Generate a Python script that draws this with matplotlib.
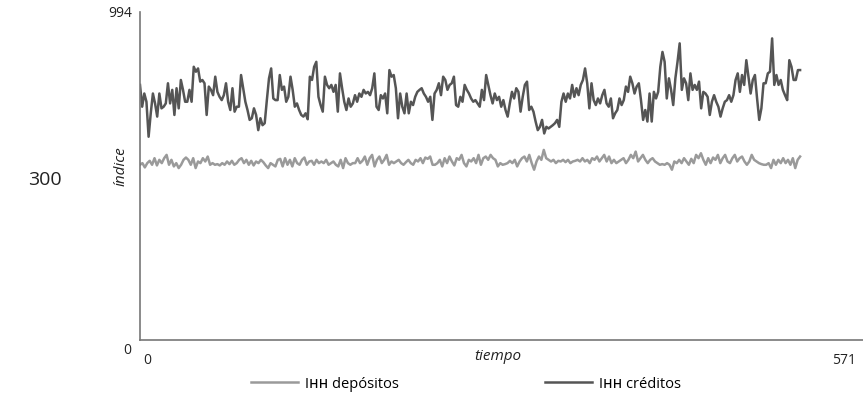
import matplotlib.pyplot as plt
import matplotlib.transforms as mtransforms
import numpy as np

# Series
ihh_creditos = [
    773, 707, 747, 722, 616, 687, 747, 717, 677, 747, 702, 707, 717, 778, 717, 758, 682, 763, 702, 788,
    758, 722, 722, 758, 722, 828, 813, 823, 783, 788, 778, 682, 768, 758, 742, 798, 752, 737, 727, 742,
    778, 722, 697, 763, 692, 707, 707, 803, 763, 722, 697, 667, 672, 702, 682, 636, 672, 651, 657, 727,
    793, 823, 732, 727, 727, 803, 758, 768, 722, 737, 798, 758, 707, 717,
    697, 682, 677, 687, 669, 798, 788, 828, 843, 737, 712, 692, 798, 773, 763, 773, 752, 773, 692, 808,
    763, 722, 697, 732, 707, 717, 742, 722, 747, 737, 758, 747, 752, 742, 763, 808, 707, 697, 742, 732,
    747, 687, 818, 798, 803, 763, 672, 747, 707, 687, 747, 687, 722, 712, 737, 752, 758, 763, 747, 737,
    722, 737, 667, 747, 758, 778, 742, 798, 788, 758, 773, 778, 798, 712, 707, 737,
    722, 773, 758, 747, 732, 722, 727, 717, 707, 758, 727, 803, 773, 742, 717, 747, 727, 737, 707, 727,
    697, 677, 717, 752, 732, 763, 752, 692, 737, 773, 783, 697, 707, 692, 662, 636, 646, 667, 626, 646,
    641, 646, 651, 657, 667, 646, 722, 747, 722, 747, 732, 773, 737, 763, 742, 773, 788, 823, 778, 702,
    778, 727, 712, 732, 717, 742, 758, 717, 707, 732, 672, 687, 697,
    732, 712, 727, 768, 752, 798, 778, 747, 768, 778, 727, 667, 697, 662, 747, 662, 752, 732, 752, 828,
    873, 843, 732, 793, 758, 712, 793, 843, 899, 758, 793, 778, 727, 808, 758, 773, 758, 783, 702, 752,
    747, 737, 682, 722, 742, 722, 707, 677, 702, 722, 727, 742, 722, 742, 788, 808, 752, 803, 773, 848,
    798, 747, 788, 803, 732, 667, 702, 778, 778, 808, 813, 914, 773, 803, 773, 788, 758, 742, 727, 848,
    828, 788, 788, 818, 818,
]

ihh_depositos = [
    531, 536, 523, 536, 543, 531, 551, 529, 546, 536, 551, 561, 531, 546, 526, 536, 521, 531, 546, 553,
    546, 531, 551, 521, 541, 536, 551, 541, 556, 531, 536, 531, 533, 529, 536, 531, 541, 533, 543, 531,
    536, 546, 551, 536, 546, 531, 543, 529, 541, 536, 546, 539, 529, 521, 536, 531, 526, 546, 549, 526,
    551, 531, 546, 526, 551, 536, 531, 546, 553, 531, 541, 543, 531, 546, 536, 541, 536, 546, 531, 536,
    541, 531, 526, 546, 521, 551, 536, 531, 536, 536,
    551, 536, 543, 556, 531, 551, 561, 526, 546, 556, 536, 546, 561, 531, 541, 536, 541, 546, 536, 531,
    539, 546, 536, 531, 546, 541, 551, 536, 553, 549, 556, 531, 531, 536, 546, 526, 551, 536, 556, 541,
    529, 551, 546, 561, 536, 526, 546, 541, 551, 536, 561, 531, 551, 556, 546, 561, 551, 546, 526, 536,
    531, 533, 536, 543, 536, 546, 526, 541, 551, 556, 541, 561, 536, 516, 541, 556, 546, 576, 551, 546,
    541, 546, 536, 543, 541, 546, 539, 546, 536, 541, 543, 546,
    541, 551, 541, 546, 536, 551, 546, 556, 541, 551, 561, 541, 556, 536, 546, 536, 541, 546, 551, 536,
    546, 561, 551, 571, 541, 551, 561, 546, 536, 546, 551, 541, 536, 531, 533, 531, 536, 531, 516, 541,
    536, 546, 536, 551, 541, 531, 549, 536, 561, 551, 566, 546, 531, 551, 536, 553, 546, 561, 536, 551,
    561, 541, 536, 551, 561, 541, 551, 556, 541, 531, 541, 561, 546, 541, 536, 533, 531, 531, 536, 521,
    546, 531, 546, 536, 551, 536, 546, 531, 551, 521, 546, 556,
]

t_fin = 535
x_max = 586
y_max = 994
x_ticks = [0, 571]
y_ticks = [0, 994]

t_cred = np.linspace(0, t_fin, len(ihh_creditos))
t_dep = np.linspace(0, t_fin, len(ihh_depositos))

W, H = 863, 396
fig = plt.figure(figsize=(W / 100, H / 100), dpi=100)
ax = fig.add_axes([140 / W, 1 - 340 / H, 1 - 140 / W, (340 - 12) / H])

c_claro = "#9a9a9a"
c_oscuro = "#555555"
fuente = ["Open Sans", "DejaVu Sans"]

ax.plot(t_dep, ihh_depositos, color=c_claro, lw=1.8, label="Iʜʜ depósitos")
ax.plot(t_cred, ihh_creditos, color=c_oscuro, lw=1.8, label="Iʜʜ créditos")

ax.set_xlim(0, x_max)
ax.set_ylim(0, y_max)
for s in ["top", "right"]:
    ax.spines[s].set_visible(False)
for s in ["left", "bottom"]:
    ax.spines[s].set_color("#777777")
    ax.spines[s].set_linewidth(1.2)

ax.set_xticks(x_ticks)
ax.set_xticklabels([str(v) for v in x_ticks], family=fuente, fontsize=10, color="#222222")
ax.set_yticks(y_ticks)
ax.set_yticklabels([str(v) for v in y_ticks], family=fuente, fontsize=10, color="#222222")
ax.tick_params(length=0)
ax.tick_params(axis="x", pad=9)
ax.tick_params(axis="y", pad=6)

# desplazar etiquetas del origen
lx = ax.get_xticklabels()[0]
lx.set_transform(lx.get_transform() + mtransforms.ScaledTranslation(7 / 100, 0, fig.dpi_scale_trans))
ly = ax.get_yticklabels()[0]
ly.set_transform(ly.get_transform() + mtransforms.ScaledTranslation(0, -9 / 100, fig.dpi_scale_trans))

fig.text(498 / W, 1 - 356 / H, "tiempo", style="italic", family=fuente, fontsize=11,
         ha="center", va="center", color="#222222")
fig.text(121 / W, 1 - 166 / H, "índice", style="italic", family=fuente, fontsize=11,
         rotation=90, ha="center", va="center", color="#222222")
fig.text(45 / W, 1 - 180 / H, "300", family=fuente, fontsize=14,
         ha="center", va="center", color="#222222")

fig.legend(loc="center", bbox_to_anchor=(466 / W, 1 - 384 / H), ncol=2, frameon=False,
           prop={"family": fuente, "size": 10.5}, handlelength=3.2, columnspacing=10,
           handletextpad=0.5)

fig.savefig("out.png", dpi=100)
